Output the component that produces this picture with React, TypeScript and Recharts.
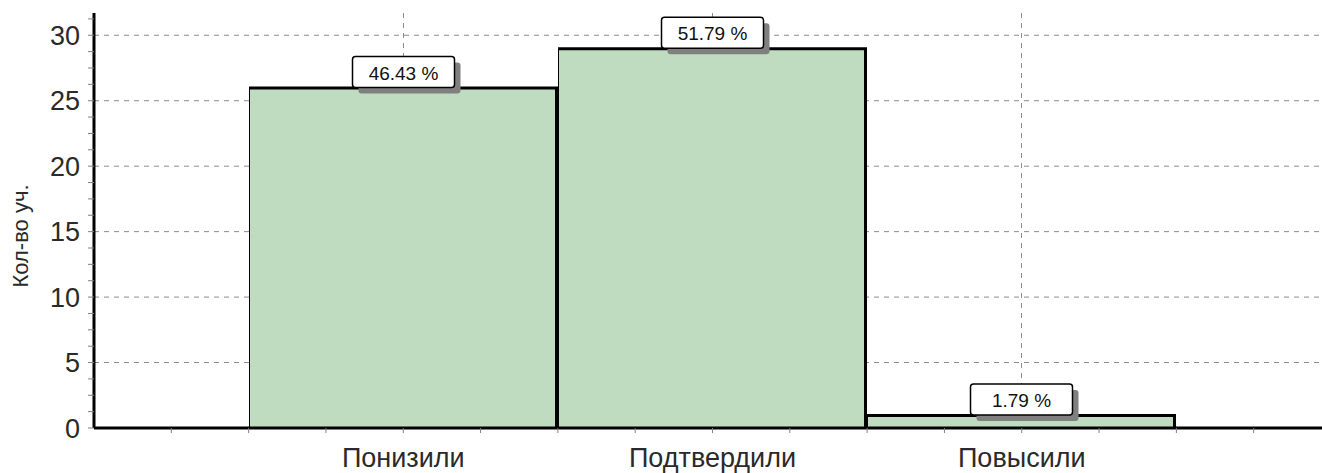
import React from 'react';
import { BarChart, Bar, XAxis, YAxis, CartesianGrid, LabelList } from 'recharts';

const categories = ['Понизили', 'Подтвердили', 'Повысили'];
const counts = [26, 29, 1];
const percents = [46.43, 51.79, 1.79];

const yTicks = [
  0, 1.25, 2.5, 3.75, 5, 6.25, 7.5, 8.75, 10, 11.25, 12.5, 13.75, 15, 16.25, 17.5, 18.75,
  20, 21.25, 22.5, 23.75, 25, 26.25, 27.5, 28.75, 30, 31.25,
];
const yGridValues = [5, 10, 15, 20, 25, 30];
// slot positions along the bottom axis: categories sit at 1, 2, 3
const xTicks = [0.25, 0.5, 0.75, 1, 1.25, 1.5, 1.75, 2, 2.25, 2.5, 2.75, 3, 3.25, 3.5, 3.75];
const xCategoryPositions = [1, 2, 3];

const data = categories.map((name, i) => ({
  name,
  slot: xCategoryPositions[i],
  count: counts[i],
  pct: percents[i],
}));

const FONT = "'Liberation Sans', Arial, sans-serif";

const BarShape = (props: any) => {
  const { x, y, width, height } = props;
  return (
    <g>
      <rect x={x} y={y} width={width} height={height} fill="#C0DCC0" />
      <line x1={x + 0.5} y1={y} x2={x + 0.5} y2={y + height} stroke="#000" strokeWidth={1} />
      <line x1={x + width - 1.5} y1={y} x2={x + width - 1.5} y2={y + height} stroke="#000" strokeWidth={3} />
      <line x1={x} y1={y + 0.5} x2={x + width} y2={y + 0.5} stroke="#000" strokeWidth={3} />
    </g>
  );
};

const PctLabel = (props: any) => {
  const { x, y, width, value } = props;
  const cx = x + width / 2;
  const w = 102;
  const h = 31;
  const bx = cx - w / 2;
  const by = y - h;
  return (
    <g>
      <rect x={bx + 6} y={by + 6} width={w} height={h} rx={3} fill="#808080" />
      <rect x={bx} y={by} width={w} height={h} rx={3} fill="#fff" stroke="#000" strokeWidth={1.5} />
      <text x={cx} y={by + h / 2 + 1} textAnchor="middle" dominantBaseline="central" fontSize={19} fill="#111" fontFamily={FONT}>
        {`${Number(value).toFixed(2)} %`}
      </text>
    </g>
  );
};

const YTick = (props: any) => {
  const { x, y, payload } = props;
  if (payload.value % 5 !== 0) return <g />;
  return (
    <text x={x} y={y} dy="0.36em" textAnchor="end" fontSize={27} fill="#2a2a2a" fontFamily={FONT}>
      {payload.value}
    </text>
  );
};

const XTick = (props: any) => {
  const { x, y, payload } = props;
  const idx = xCategoryPositions.indexOf(payload.value);
  if (idx < 0) return <g />;
  return (
    <text x={x} y={y} dy="0.71em" textAnchor="middle" fontSize={27} fill="#2a2a2a" fontFamily={FONT}>
      {categories[idx]}
    </text>
  );
};

const YTitle = () => (
  <text transform="translate(28, 236) rotate(-90)" textAnchor="middle" fontSize={22} fill="#2a2a2a" fontFamily={FONT}>
    Кол-во уч.
  </text>
);

export default function App() {
  return (
    <div style={{ position: 'absolute', left: 0, top: 0, width: 1322, height: 473, overflow: 'hidden', background: '#fff', fontFamily: FONT }}>
      <BarChart
        width={1331}
        height={473}
        data={data}
        margin={{ top: 13, right: 0, bottom: 0, left: 0 }}
        barCategoryGap={0}
      >
        <CartesianGrid
          xAxisId="main"
          strokeDasharray="5 5"
          stroke="#8c8c8c"
          horizontalValues={yGridValues}
        />
        <XAxis
          xAxisId="main"
          dataKey="name"
          hide
          height={0}
          padding={{ left: 155, right: 155 }}
        />
        <XAxis
          xAxisId="slots"
          dataKey="slot"
          type="number"
          domain={[0, 4]}
          ticks={xTicks}
          interval={0}
          allowDataOverflow
          height={45}
          axisLine={{ stroke: '#000', strokeWidth: 3 }}
          tickLine={{ stroke: '#808080' }}
          tickSize={5}
          tickMargin={15}
          tick={<XTick />}
        />
        <YAxis
          width={94}
          domain={[0, 31.7]}
          ticks={yTicks}
          allowDataOverflow
          interval={0}
          axisLine={{ stroke: '#000', strokeWidth: 3 }}
          tickLine={{ stroke: '#808080' }}
          tickSize={6}
          tickMargin={8}
          tick={<YTick />}
          label={<YTitle />}
        />
        <Bar xAxisId="main" dataKey="count" shape={<BarShape />} isAnimationActive={false}>
          <LabelList dataKey="pct" content={<PctLabel />} />
        </Bar>
      </BarChart>
    </div>
  );
}
